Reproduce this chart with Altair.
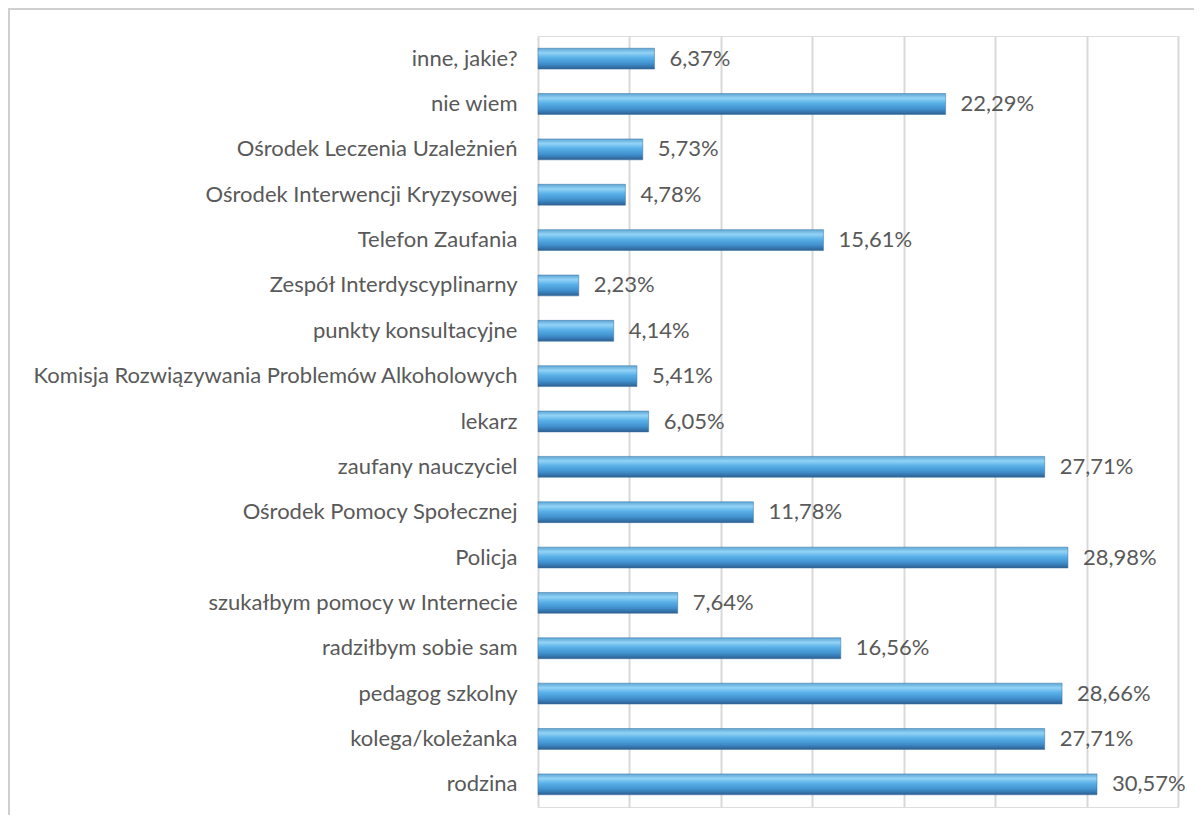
import altair as alt
import pandas as pd

categories = [
    "inne, jakie?",
    "nie wiem",
    "Ośrodek Leczenia Uzależnień",
    "Ośrodek Interwencji Kryzysowej",
    "Telefon Zaufania",
    "Zespół Interdyscyplinarny",
    "punkty konsultacyjne",
    "Komisja Rozwiązywania Problemów Alkoholowych",
    "lekarz",
    "zaufany nauczyciel",
    "Ośrodek Pomocy Społecznej",
    "Policja",
    "szukałbym pomocy w Internecie",
    "radziłbym sobie sam",
    "pedagog szkolny",
    "kolega/koleżanka",
    "rodzina",
]
values = [6.37, 22.29, 5.73, 4.78, 15.61, 2.23, 4.14, 5.41, 6.05, 27.71,
          11.78, 28.98, 7.64, 16.56, 28.66, 27.71, 30.57]
labels = [f"{v:.2f}%".replace(".", ",") for v in values]

df = pd.DataFrame({"cat": categories, "val": values, "lab": labels})

FONT = "Lato"
TXT = "#595959"

grad = alt.Gradient(
    gradient="linear", x1=0, x2=0, y1=0, y2=1,
    stops=[
        alt.GradientStop(offset=0, color="#5da6d6"),
        alt.GradientStop(offset=0.22, color="#93d3f6"),
        alt.GradientStop(offset=0.45, color="#5ab1e8"),
        alt.GradientStop(offset=0.75, color="#3f8fcc"),
        alt.GradientStop(offset=1, color="#2d5f91"),
    ],
)

y = alt.Y("cat:N", sort=categories, title=None,
          scale=alt.Scale(paddingInner=0.54, paddingOuter=0.27),
          axis=alt.Axis(domain=False, ticks=False, labelFont=FONT, labelFontSize=22,
                        labelColor=TXT, labelPadding=21, labelLimit=600))
x = alt.X("val:Q", title=None, scale=alt.Scale(domain=[0, 35], nice=False),
          axis=alt.Axis(values=[0, 5, 10, 15, 20, 25, 30, 35], labels=False, ticks=False,
                        domain=False, grid=True, gridColor="#d9d9d9", gridWidth=2))

border = alt.Chart(pd.DataFrame({"a": [0]})).mark_rect(
    fill="transparent", stroke="#cfcfcf", strokeWidth=2
).encode(x=alt.value(-529), x2=alt.value(700), y=alt.value(-27), y2=alt.value(820))

bars = alt.Chart(df).mark_bar(color=grad, stroke="#3a6f9f", strokeWidth=0.5).encode(y=y, x=x)
text = alt.Chart(df).mark_text(align="left", dx=15, font=FONT, fontSize=22, color=TXT).encode(
    y=alt.Y("cat:N", sort=categories), x="val:Q", text="lab:N")

chart = alt.layer(border, bars, text).properties(
    width=640, height=771,
    autosize=alt.AutoSizeParams(type="none"),
    padding={"left": 530, "top": 28, "right": 16, "bottom": 8},
).configure_view(stroke=None).configure(background="white")

chart.save("out.html", embed_options={"renderer": "svg", "actions": False})
